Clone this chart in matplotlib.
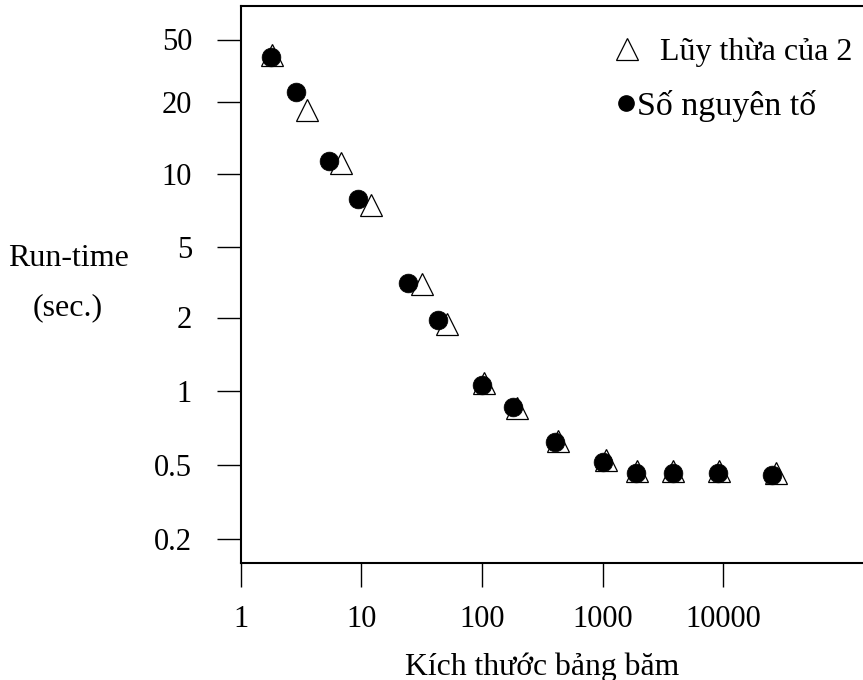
import numpy as np
import matplotlib
matplotlib.use("Agg")
import matplotlib.pyplot as plt
from matplotlib.lines import Line2D
from matplotlib.ticker import NullLocator, FixedLocator, FixedFormatter

# ---------------- data ----------------
POW2_SIZE = [1.82, 3.54, 6.78, 12.0, 31.8, 51, 104, 195, 427, 1076, 1937, 3852, 9209, 27100]
POW2_TIME = [39.7, 18.6, 11.1, 7.42, 3.10, 1.876, 1.075, 0.855, 0.627, 0.523, 0.465, 0.462, 0.462, 0.450]

PRIME_SIZE = [1.78, 2.87, 5.39, 9.38, 24.2, 43.2, 100, 181, 403, 1007, 1880, 3810, 9100, 25200]
PRIME_TIME = [38.7, 23.2, 11.3, 7.89, 3.12, 1.95, 1.058, 0.861, 0.620, 0.514, 0.454, 0.454, 0.454, 0.441]

X_TICKS = [1, 10, 100, 1000, 10000]
X_TICK_LABELS = ["1", "10", "100", "1000", "10000"]
Y_TICKS = [0.2, 0.5, 1, 2, 5, 10, 20, 50]
Y_TICK_LABELS = ["0.2", "0.5", "1", "2", "5", "10", "20", "50"]

LABEL_POW2 = "Lũy thừa của 2"
LABEL_PRIME = "Số nguyên tố"
X_LABEL = "Kích thước bảng băm"
Y_LABEL = "Run-time\n(sec.)"

# ---------------- layout (pixels) ----------------
W, H = 863, 680
AX_LEFT, AX_RIGHT, AX_TOP, AX_BOTTOM = 240.7, 870.0, 6.0, 563.0
PX_PER_DECADE = 120.65
# hand-drawn value axis: pixel height (above the bottom spine) of each tick
Y_TICK_POS = [24.5, 98.0, 172.0, 245.5, 316.0, 389.0, 461.0, 523.5]

LT = np.log10(np.array(Y_TICKS, dtype=float))
P = np.array(Y_TICK_POS)
S_LO = (P[1] - P[0]) / (LT[1] - LT[0])
S_HI = (P[-1] - P[-2]) / (LT[-1] - LT[-2])


def fwd(v):
    v = np.asarray(v, dtype=float)
    lv = np.log10(np.clip(v, 1e-12, None))
    out = np.interp(lv, LT, P)
    out = np.where(lv < LT[0], P[0] + (lv - LT[0]) * S_LO, out)
    out = np.where(lv > LT[-1], P[-1] + (lv - LT[-1]) * S_HI, out)
    return out


def inv(p):
    p = np.asarray(p, dtype=float)
    lv = np.interp(p, P, LT)
    lv = np.where(p < P[0], LT[0] + (p - P[0]) / S_LO, lv)
    lv = np.where(p > P[-1], LT[-1] + (p - P[-1]) / S_HI, lv)
    return 10 ** lv


plt.rcParams["font.family"] = ["Liberation Serif", "DejaVu Serif"]

fig = plt.figure(figsize=(W / 100, H / 100), dpi=100)
ax = fig.add_axes([AX_LEFT / W, 1 - AX_BOTTOM / H,
                   (AX_RIGHT - AX_LEFT) / W, (AX_BOTTOM - AX_TOP) / H])

ax.set_xscale("log")
ax.set_xlim(1, 10 ** ((AX_RIGHT - AX_LEFT) / PX_PER_DECADE))
ax.set_yscale("function", functions=(fwd, inv))
ax.set_ylim(float(inv(0.0)), float(inv(AX_BOTTOM - AX_TOP)))

ax.plot(POW2_SIZE, POW2_TIME, linestyle="none", marker="^", markersize=16.5,
        markerfacecolor="white", markeredgecolor="black", markeredgewidth=0.9,
        zorder=3, clip_on=False)
ax.plot(PRIME_SIZE, PRIME_TIME, linestyle="none", marker="o", markersize=13.5,
        markerfacecolor="black", markeredgecolor="black", markeredgewidth=0.5,
        zorder=4, clip_on=False)

ax.xaxis.set_major_locator(FixedLocator(X_TICKS))
ax.xaxis.set_major_formatter(FixedFormatter(X_TICK_LABELS))
ax.xaxis.set_minor_locator(NullLocator())
ax.yaxis.set_major_locator(FixedLocator(Y_TICKS))
ax.yaxis.set_major_formatter(FixedFormatter(Y_TICK_LABELS))
ax.yaxis.set_minor_locator(NullLocator())

ax.tick_params(axis="x", direction="out", length=17, width=1.0, pad=13, labelsize=22)
ax.tick_params(axis="y", direction="out", length=17, width=1.0, pad=18, labelsize=22)

for s in ["left", "bottom", "top"]:
    ax.spines[s].set_linewidth(1.5)
ax.spines["right"].set_visible(False)

ax_w = AX_RIGHT - AX_LEFT
ax_h = AX_BOTTOM - AX_TOP
ax.set_xlabel(X_LABEL, fontsize=22.8)
ax.xaxis.set_label_coords((542 - AX_LEFT) / ax_w, (AX_BOTTOM - 667) / ax_h)
ax.xaxis.label.set_va("center")
ax.set_ylabel(Y_LABEL, fontsize=23, rotation=0, linespacing=1.95)
ax.yaxis.set_label_coords((68 - AX_LEFT) / ax_w, (AX_BOTTOM - 283) / ax_h)
ax.yaxis.label.set_va("center")
ax.yaxis.label.set_ha("center")

h1 = Line2D([], [], linestyle="none", marker="^", markersize=16.5,
            markerfacecolor="white", markeredgecolor="black", markeredgewidth=0.9)
h2 = Line2D([], [], linestyle="none", marker="o", markersize=11,
            markerfacecolor="black", markeredgecolor="black")
leg1 = ax.legend([h1], [LABEL_POW2], loc="center left", frameon=False,
                 fontsize=23, handlelength=1.0, handletextpad=0.52,
                 borderpad=0, borderaxespad=0,
                 bbox_to_anchor=(611 / W, 1 - 52 / H), bbox_transform=fig.transFigure)
ax.add_artist(leg1)
ax.legend([h2], [LABEL_PRIME], loc="center left", frameon=False,
          fontsize=24.5, handlelength=0.55, handletextpad=0.03,
          borderpad=0, borderaxespad=0,
          bbox_to_anchor=(617 / W, 1 - 106 / H), bbox_transform=fig.transFigure)

fig.savefig("out.png", dpi=100)
